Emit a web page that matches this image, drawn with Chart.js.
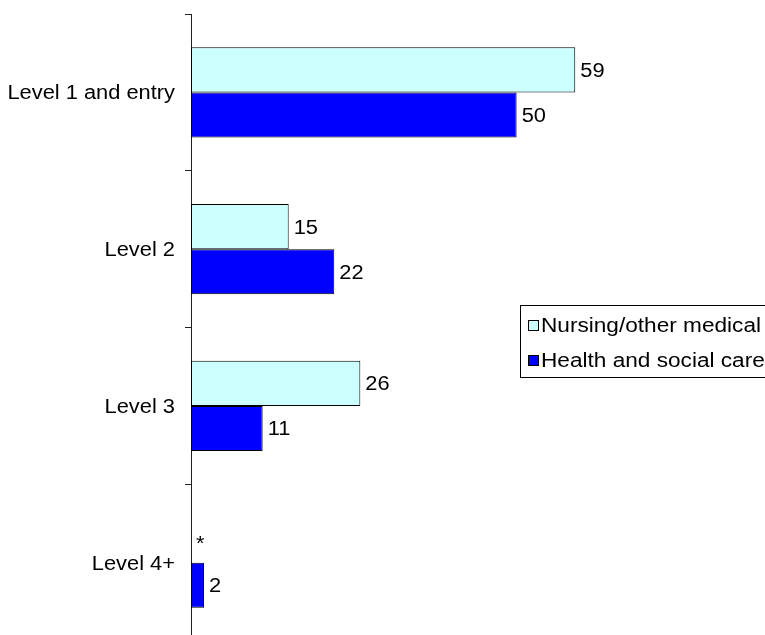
<!DOCTYPE html>
<html>
<head>
<meta charset="utf-8">
<script src="https://cdn.jsdelivr.net/npm/chart.js@4/dist/chart.umd.min.js"></script>
<style>
  html, body { margin: 0; padding: 0; background: #fff; overflow: hidden; }
  #wrap { width: 765px; height: 635px; overflow: hidden; }
</style>
</head>
<body>
<div id="wrap"><canvas id="grafico" width="765" height="642"></canvas></div>
<script>
// categories and values (percent)
const niveis = ['Level 1 and entry', 'Level 2', 'Level 3', 'Level 4+'];
const nursing = [59, 15, 26, 0];     // 0 is shown as "*"
const health = [50, 22, 11, 2];
const series = ['Nursing/other medical', 'Health and social care'];

const FONT = '19.5px "Liberation Sans", Arial, sans-serif';
const STRETCH = 1.12; // text in this chart is set slightly wide

function textoLargo(ctx, txt, x, y, align, sx) {
    ctx.save();
    ctx.translate(x, y);
    ctx.scale(sx || STRETCH, 1);
    ctx.textAlign = align || 'left';
    ctx.textBaseline = 'alphabetic';
    ctx.fillText(txt, 0, 0);
    ctx.restore();
}

// category names to the left of the axis
const rotulosEixo = {
    id: 'rotulosEixo',
    afterDraw(chart) {
        const ctx = chart.ctx;
        const y = chart.scales.y;
        ctx.save();
        ctx.font = FONT;
        ctx.fillStyle = '#000';
        niveis.forEach((n, i) => {
            textoLargo(ctx, n, y.right - 16, y.getPixelForValue(i) + 7, 'right');
        });
        ctx.restore();
    }
};

// value at the end of each bar
const valores = {
    id: 'valores',
    afterDatasetsDraw(chart) {
        const ctx = chart.ctx;
        ctx.save();
        ctx.font = FONT;
        ctx.fillStyle = '#000';
        chart.data.datasets.forEach((ds, d) => {
            chart.getDatasetMeta(d).data.forEach((bar, i) => {
                const v = ds.data[i];
                const txt = v === 0 ? '*' : String(v);
                const dy = v === 0 ? 10 : 7; // asterisk sits high in the font
                textoLargo(ctx, txt, bar.x + 5, bar.y + dy, 'left');
            });
        });
        ctx.restore();
    }
};

// boxed legend on the right, running off the edge
const legenda = {
    id: 'legenda',
    afterDraw(chart) {
        const ctx = chart.ctx;
        ctx.save();
        ctx.strokeStyle = '#000';
        ctx.lineWidth = 1;
        ctx.strokeRect(520.5, 305.5, 300, 72);
        ctx.font = FONT;
        const linhas = [325, 360];
        chart.data.datasets.forEach((ds, d) => {
            const cy = linhas[d];
            ctx.fillStyle = ds.backgroundColor;
            ctx.fillRect(528, cy - 5, 11, 11);
            ctx.strokeStyle = '#000';
            ctx.strokeRect(528.5, cy - 4.5, 10, 10);
            ctx.fillStyle = '#000';
            textoLargo(ctx, ds.label, 541, cy + 7, 'left', 1.16);
        });
        ctx.restore();
    }
};

const ctx = document.getElementById('grafico').getContext('2d');
const grafico = new Chart(ctx, {
    type: 'bar',
    data: {
        labels: niveis,
        datasets: [{
            label: series[0],
            data: nursing,
            backgroundColor: '#CCFFFF',
            borderColor: '#000',
            borderWidth: 1,
            borderSkipped: false
        }, {
            label: series[1],
            data: health,
            backgroundColor: '#0000FF',
            borderColor: '#000',
            borderWidth: 1,
            borderSkipped: false
        }]
    },
    options: {
        indexAxis: 'y',
        responsive: false,
        animation: false,
        layout: { padding: { top: 14, right: 53, bottom: 1, left: 0 } },
        datasets: {
            bar: { categoryPercentage: 0.575, barPercentage: 1 }
        },
        scales: {
            x: { display: false, min: 0, max: 80 },
            y: {
                grid: {
                    offset: true,
                    drawOnChartArea: false,
                    drawTicks: true,
                    tickLength: 6,
                    color: '#222'
                },
                border: { display: true, color: '#222', width: 1 },
                ticks: { display: false },
                afterFit(scale) { scale.width = 191; }
            }
        },
        plugins: {
            legend: { display: false },
            tooltip: { enabled: false }
        }
    },
    plugins: [rotulosEixo, valores, legenda]
});
</script>
</body>
</html>
